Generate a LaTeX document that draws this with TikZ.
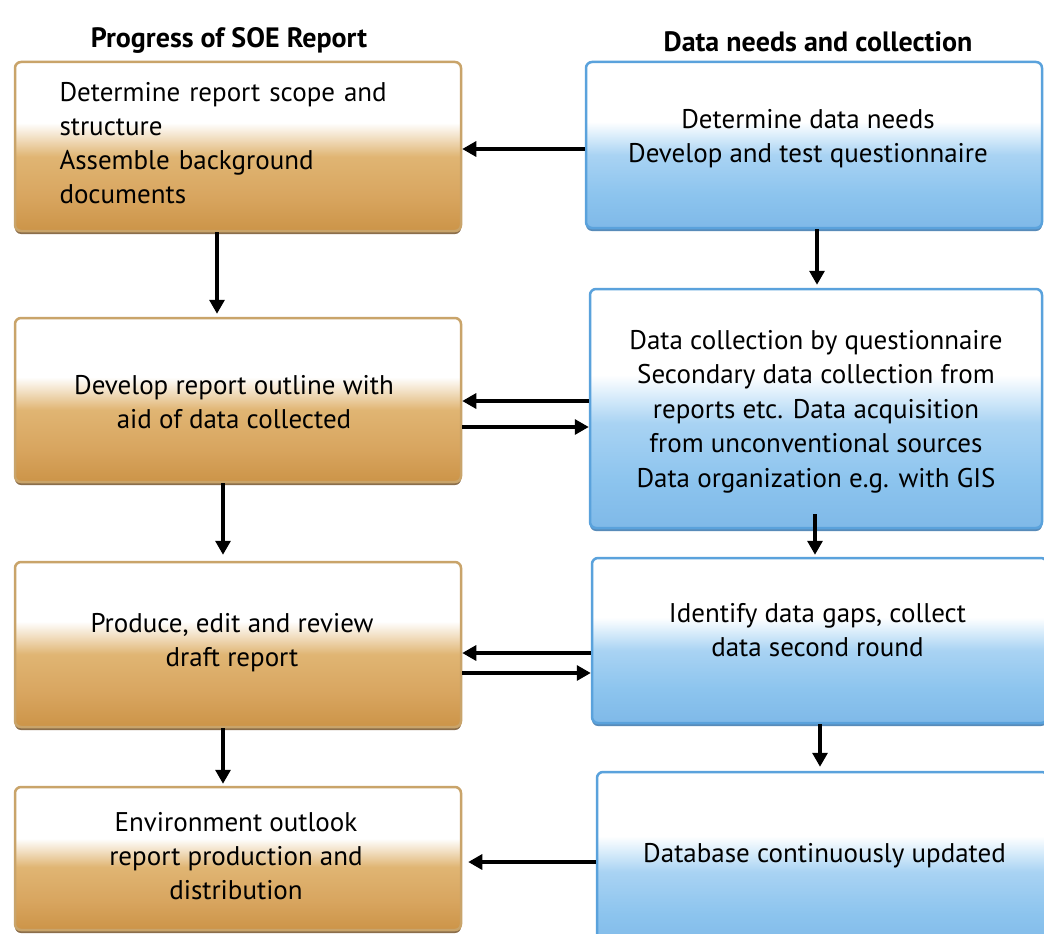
\documentclass[tikz,border=0pt]{standalone}
\usepackage{fontspec}
\setmainfont{PT Sans}
\usetikzlibrary{arrows.meta,shadows,calc}
\definecolor{tanD}{HTML}{CC9448}
\definecolor{tanC}{HTML}{D8A55F}
\definecolor{tanB}{HTML}{E0B573}
\definecolor{tanL}{HTML}{F3E2C8}
\definecolor{tanborder}{HTML}{C9A46A}
\definecolor{tanedge}{HTML}{6E4A1E}
\definecolor{bluD}{HTML}{7FB9E8}
\definecolor{bluC}{HTML}{8CC4EE}
\definecolor{bluB}{HTML}{A9D3F3}
\definecolor{bluL}{HTML}{DCEEFB}
\definecolor{bluborder}{HTML}{5AA2DC}
\definecolor{bluedge}{HTML}{2F6FA8}
\pgfdeclareverticalshading{orangeshade}{100bp}{color(0bp)=(tanD); color(25bp)=(tanD); color(35bp)=(tanC); color(47bp)=(tanB); color(53bp)=(tanL); color(57bp)=(white); color(100bp)=(white)}
\pgfdeclareverticalshading{blueshade}{100bp}{color(0bp)=(bluD); color(25bp)=(bluD); color(35bp)=(bluC); color(47bp)=(bluB); color(53bp)=(bluL); color(57bp)=(white); color(100bp)=(white)}
\begin{document}
\begin{tikzpicture}[x=1pt,y=-1pt,
  boxtext/.style={font=\fontsize{27}{34}\selectfont, align=center, inner sep=0pt},
  obox/.style={rounded corners=6pt, draw=tanborder, line width=2.5pt,
    shading=orangeshade, inner sep=0pt,
    drop shadow={shadow xshift=0pt, shadow yshift=-3pt, fill=tanedge, opacity=0.8}},
  bbox/.style={rounded corners=6pt, draw=bluborder, line width=2.5pt,
    shading=blueshade, inner sep=0pt,
    drop shadow={shadow xshift=0pt, shadow yshift=-3pt, fill=bluedge, opacity=0.8}},
  header/.style={font=\bfseries\fontsize{28}{32}\selectfont},
  arr/.style={line width=3.2pt, -{Triangle[length=14pt,width=15pt]}}
]
\useasboundingbox (0,0) rectangle (1044,934);
\fill[white] (0,0) rectangle (1044,934);
\begin{scope}
\clip (0,0) rectangle (1044,934);
\node[header] (h1) at (229,40) {Progress of SOE Report};
\node[header] (h2) at (818,42) {Data needs and collection};

% left column boxes
\node[obox, minimum width=446pt, minimum height=169pt] (L1) at (238,146.5) {};
\node[obox, minimum width=446pt, minimum height=164pt] (L2) at (238,400) {};
\node[obox, minimum width=446pt, minimum height=165pt] (L3) at (238,644.5) {};
\node[obox, minimum width=446pt, minimum height=143pt] (L4) at (238,858.5) {};
% right column boxes
\node[bbox, minimum width=456pt, minimum height=166pt] (R1) at (814,145) {};
\node[bbox, minimum width=452pt, minimum height=239pt] (R2) at (816,408.5) {};
\node[bbox, minimum width=455pt, minimum height=165pt] (R3) at (819.5,640.5) {};
\node[bbox, minimum width=451pt, minimum height=178pt] (R4) at (822.5,861) {};
\end{scope}

% texts
\node[boxtext, align=left, text width=355pt] (L1t) at ($(L1.center)+(-1,-3)$)
  {Determine report scope and\\structure\\Assemble background\\documents};
\node[boxtext] (L2t) at ($(L2.center)+(-4,2)$) {Develop report outline with\\aid of data collected};
\node[boxtext] (L3t) at ($(L3.center)+(-6,-2)$) {Produce, edit and review\\draft report};
\node[boxtext] (L4t) at ($(L4.center)+(-2,-2)$) {Environment outlook\\report production and\\distribution};
\node[boxtext] (R1t) at ($(R1.center)+(-6,-6)$) {Determine data needs\\Develop and test questionnaire};
\node[boxtext, font=\fontsize{27}{34.5}\selectfont] (R2t) at ($(R2.center)+(0,3)$)
  {Data collection by questionnaire\\Secondary data collection from\\reports etc. Data acquisition\\from unconventional sources\\Data organization e.g. with GIS};
\node[boxtext] (R3t) at ($(R3.center)+(-2,-10)$) {Identify data gaps, collect\\data second round};
\node[boxtext] (R4t) at ($(R4.center)+(2,-5)$) {Database continuously updated};

% connectors
\draw[arr] (R1.west |- 0,149) -- (L1.east |- 0,149);
\draw[arr, shorten >=3pt] (L1.south -| 217,0) -- (L2.north -| 217,0);
\draw[arr, shorten >=3pt] (R1.south -| 817,0) -- (R2.north -| 817,0);

\draw[arr] (R2.west |- 0,401) -- (L2.east |- 0,401);
\draw[arr] (L2.east |- 0,427) -- (R2.west |- 0,427);
\draw[arr, shorten >=6pt] (L2.south -| 223,0) -- (L3.north -| 223,0);
\draw[arr, shorten >=2pt] ($(R2.south -| 815,0)+(0,-15)$) -- (R3.north -| 815,0);

\draw[arr] (R3.west |- 0,653) -- (L3.east |- 0,653);
\draw[arr] (L3.east |- 0,673) -- (R3.west |- 0,673);
\draw[arr, shorten >=2pt] (L3.south -| 223,0) -- (L4.north -| 223,0);
\draw[arr, shorten >=4pt] (R3.south -| 820,0) -- (R4.north -| 820,0);

\draw[arr, shorten >=6pt] (R4.west |- 0,862) -- (L4.east |- 0,862);
\end{tikzpicture}
\end{document}
